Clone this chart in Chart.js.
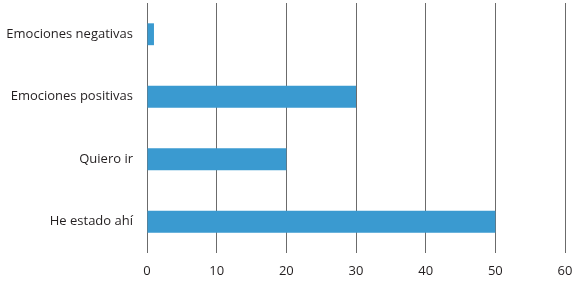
<!DOCTYPE html>
<html>
<head>
<meta charset="utf-8">
<script src="https://cdn.jsdelivr.net/npm/chart.js@4"></script>
<style>
  html, body { margin: 0; padding: 0; background: #fff; }
  #wrap { width: 579px; height: 287px; }
</style>
</head>
<body>
<div id="wrap"><canvas id="bar-chart"></canvas></div>
<script>
const labels = ["Emociones negativas", "Emociones positivas", "Quiero ir", "He estado ahí"];
const dataAmount = [1, 30, 20, 50];
const xTicks = [0, 10, 20, 30, 40, 50, 60];

const data = {
  labels: labels,
  datasets: [
    {
      data: dataAmount,
      backgroundColor: "#3a9ad0",
      borderWidth: 0,
      categoryPercentage: 1,
      barPercentage: 0.35,
    },
  ],
};

const config = {
  type: "bar",
  data: data,
  options: {
    indexAxis: "y",
    responsive: true,
    maintainAspectRatio: false,
    animation: false,
    layout: { padding: { top: 3, right: 14, left: 0, bottom: 0 } },
    plugins: {
      legend: { display: false },
      tooltip: { enabled: false },
    },
    scales: {
      x: {
        min: 0,
        max: 60,
        afterBuildTicks: (axis) => {
          axis.ticks = xTicks.map((v) => ({ value: v }));
        },
        afterFit: (s) => {
          s.height = 34;
          s.paddingLeft = 0;
          s.paddingRight = 0;
        },
        grid: { color: "#6b6b6b", lineWidth: 1, drawTicks: false },
        border: { display: false },
        ticks: { color: "#231f20", padding: 10, font: { family: "Open Sans", size: 13 } },
      },
      y: {
        afterFit: (s) => {
          s.width = 147;
          s.paddingTop = 0;
          s.paddingBottom = 0;
        },
        grid: { display: false, drawTicks: false },
        border: { display: false },
        ticks: { color: "#231f20", padding: 14, font: { family: "Open Sans", size: 13 } },
      },
    },
  },
};

let ctx = document.getElementById("bar-chart");
const stackedBar = new Chart(ctx, config);
</script>
</body>
</html>
